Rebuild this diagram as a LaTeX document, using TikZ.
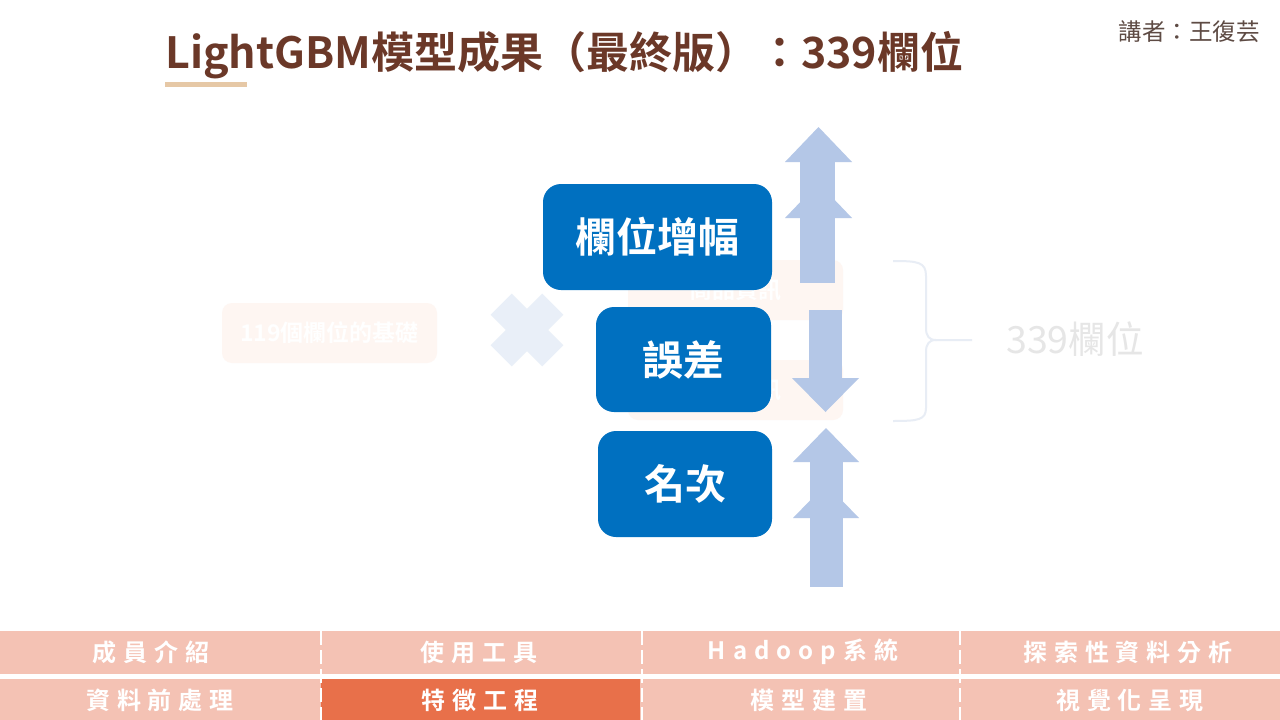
\documentclass[tikz,border=0pt]{standalone}
\usepackage{fontspec}
\setmainfont{Noto Sans CJK TC}[BoldFont={Noto Sans CJK TC Bold}]
\newfontfamily\navfont{Noto Sans CJK TC Bold}[LetterSpace=29]
\definecolor{titlebrown}{RGB}{107,56,40}
\definecolor{barcol}{RGB}{230,200,166}
\definecolor{speakercol}{RGB}{94,75,68}
\definecolor{boxblue}{RGB}{0,112,192}
\definecolor{arrowblue}{RGB}{180,199,231}
\definecolor{crosscol}{RGB}{233,239,248}
\definecolor{faintpeach}{RGB}{254,246,242}
\definecolor{bracecol}{RGB}{232,237,245}
\definecolor{faintgray}{RGB}{230,230,230}
\definecolor{navlight}{RGB}{244,194,180}
\definecolor{navactive}{RGB}{232,112,74}
\tikzset{
  bluebox/.style={fill=boxblue, rounded corners=18pt, text=white, font=\bfseries\fontsize{41}{41}\selectfont, inner sep=0pt, minimum height=106pt},
  faintbox/.style={fill=faintpeach, rounded corners=10pt, text=white, font=\bfseries\fontsize{23}{23}\selectfont, inner sep=0pt, minimum width=215pt, minimum height=60pt},
  arrowfill/.style={fill=arrowblue},
  navlabel/.style={text=white, font=\navfont\fontsize{24}{24}\selectfont, inner sep=0pt},
  navdiv/.style={draw=white, line width=2.5pt, dash pattern=on 14pt off 5pt}
}
\begin{document}
\begin{tikzpicture}[x=1pt,y=-1pt]
\useasboundingbox (0,0) rectangle (1280,720);
\fill[white] (0,0) rectangle (1280,720);

% title
\node[anchor=base west, text=titlebrown, font=\bfseries\fontsize{43}{43}\selectfont, inner sep=0pt] (title) at (165,68) {LightGBM模型成果（最終版）：339欄位};
\node[fill=barcol, minimum width=82pt, minimum height=5pt, inner sep=0pt, anchor=north west] (bar) at (165,82) {};
\node[anchor=base east, text=speakercol, font=\fontsize{23.5}{23.5}\selectfont, inner sep=0pt] (speaker) at (1260,40) {講者：王復芸};

% faint layers
\node[faintbox] (base) at (329.5,333) {119個欄位的基礎};
\node[faintbox] (infoA) at (735.5,290) {商品資訊};
\node[faintbox] (infoB) at (735.5,390) {用戶資訊};
\fill[crosscol, rotate around={45:(527,330)}] (490.5,315) rectangle (563.5,345);
\fill[crosscol, rotate around={-45:(527,330)}] (490.5,315) rectangle (563.5,345);

% arrows
\fill[arrowfill] (800,162) rectangle (835,283);
\fill[arrowfill] (785,162) -- (852,162) -- (818.5,127) -- cycle;
\fill[arrowfill] (785,218) -- (852,218) -- (818.5,183) -- cycle;
\fill[arrowfill] (809,310) rectangle (842,378);
\fill[arrowfill] (792,378) -- (859,378) -- (825.5,412) -- cycle;
\fill[arrowfill] (810,462) rectangle (843,587);
\fill[arrowfill] (793,462) -- (859,462) -- (826,428) -- cycle;
\fill[arrowfill] (793,518) -- (859,518) -- (826,484) -- cycle;

% blue boxes
\node[bluebox, minimum width=229pt] (fields) at (657.5,237) {欄位增幅};
\node[bluebox, minimum width=175pt, minimum height=105pt] (error) at (683.5,359.5) {誤差};
\node[bluebox, minimum width=174pt] (rank) at (685,484) {名次};

% brace
\draw[bracecol, line width=2pt, line join=round] (893,261) .. controls (918,261) and (926,262) .. (926,276) -- (926,328) .. controls (926,336) and (929,340) .. (936,340) -- (972,340);
\draw[bracecol, line width=2pt, line join=round] (936,340) .. controls (929,340) and (926,344) .. (926,352) -- (926,408) .. controls (926,420) and (918,421) .. (893,421);
\node[text=faintgray, font=\fontsize{37.5}{37.5}\selectfont, inner sep=0pt] (total) at (1075,339) {339欄位};

% nav bar
\fill[navlight] (0,631) rectangle (1280,674);
\fill[navlight] (0,679) rectangle (1280,720);
\fill[navactive] (321,679) rectangle (640,720);
\draw[navdiv] (321,631) -- (321,720);
\draw[navdiv] (642,631) -- (642,720);
\draw[navdiv] (960,631) -- (960,720);
\node[navlabel] (n1) at (151,652) {成員介紹};
\node[navlabel] (n2) at (479,652) {使用工具};
\node[navlabel] (n3) at (803,652) {Hadoop系統};
\node[navlabel] (n4) at (1128,652) {探索性資料分析};
\node[navlabel] (n5) at (160,700) {資料前處理};
\node[navlabel] (n6) at (480,700) {特徵工程};
\node[navlabel] (n7) at (809,700) {模型建置};
\node[navlabel] (n8) at (1130,700) {視覺化呈現};
\end{tikzpicture}
\end{document}
